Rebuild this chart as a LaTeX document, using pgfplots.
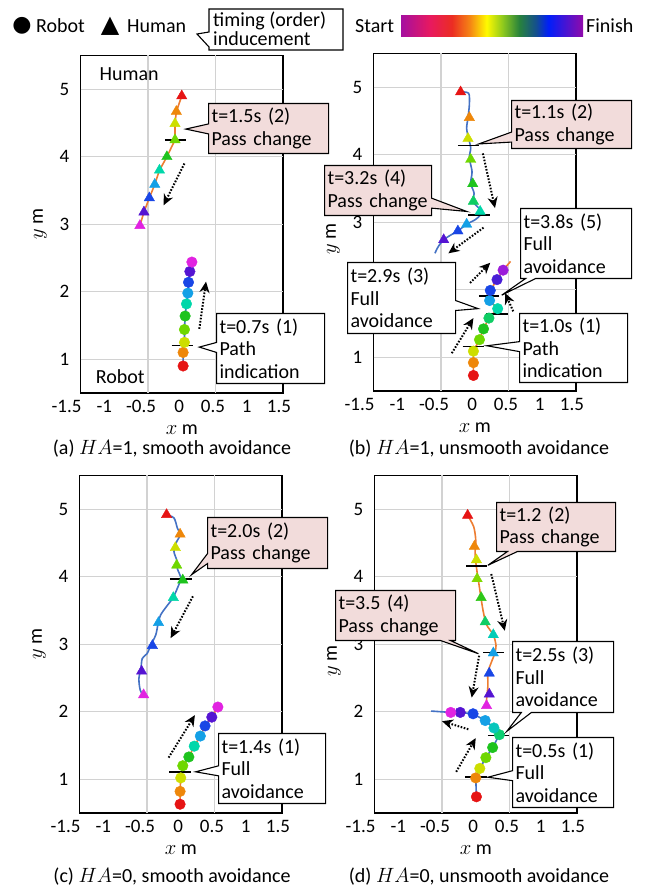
\documentclass[border=0pt]{standalone}
\usepackage{fontspec}
\setmainfont{Carlito}
\newfontfamily\symfont{DejaVu Sans}
\usepackage{pgfplots}
\pgfplotsset{compat=1.18}
\usetikzlibrary{arrows.meta,shapes.callouts}

\definecolor{pinkc}{RGB}{242,220,219}
\definecolor{xlorange}{RGB}{237,125,49}
\definecolor{xlblue}{RGB}{68,114,196}
\definecolor{gridc}{RGB}{210,210,210}
\definecolor{cb0}{RGB}{165,15,160}
\definecolor{cb1}{RGB}{232,25,95}
\definecolor{cb2}{RGB}{235,45,35}
\definecolor{cb3}{RGB}{245,135,20}
\definecolor{cb4}{RGB}{255,250,0}
\definecolor{cb5}{RGB}{140,200,30}
\definecolor{cb6}{RGB}{40,130,60}
\definecolor{cb7}{RGB}{20,80,140}
\definecolor{cb8}{RGB}{0,30,250}
\definecolor{cb9}{RGB}{145,10,170}
\pgfdeclarehorizontalshading{rbow}{100bp}{color(0bp)=(cb0); color(25bp)=(cb0); color(33bp)=(cb1); color(39bp)=(cb2); color(44bp)=(cb3); color(48.5bp)=(cb4); color(53bp)=(cb5); color(57.5bp)=(cb6); color(62bp)=(cb7); color(65.5bp)=(cb8); color(75bp)=(cb9); color(100bp)=(cb9)}

\newcommand\fs{\fontsize{20bp}{22.5bp}\selectfont}
\newcommand\tfs{\fontsize{19bp}{22bp}\selectfont}

\pgfplotsset{
  colormap={traj}{rgb255=(230,20,20) rgb255=(238,135,10) rgb255=(205,222,0) rgb255=(110,215,0) rgb255=(30,195,30) rgb255=(0,215,170) rgb255=(20,160,230) rgb255=(25,70,230) rgb255=(85,20,210) rgb255=(225,35,225)},
  panel/.style={
    anchor=south west, scale only axis, width=202.5bp, height=337.5bp,
    xmin=-1.5, xmax=1.5, ymin=0.5, ymax=5.5,
    axis line style={line width=1.5bp, black},
    major tick length=0pt,
    xtick={-1.5,-1,-0.5,0,0.5,1,1.5},
    xticklabels={{\kern-28bp-1.5},{\kern-20bp-1},{\kern-14bp-0.5},{\kern-5bp 0},{\kern-5bp 0.5},{\kern-5bp 1},{\kern-8bp 1.5}},
    ytick={1,2,3,4,5}, yticklabels={1,2,3,4,5},
    unbounded coords=jump,
    tick label style={font=\tfs},
    xticklabel style={anchor=north, inner sep=0pt, yshift=-7bp},
    yticklabel style={anchor=east, inner sep=0pt, xshift=-11bp},
    label style={font=\fs},
    xlabel={$x$ m}, ylabel={$y$ m},
    xlabel style={at={(axis description cs:0.5,-0.11)}, anchor=center},
    ylabel style={at={(axis description cs:-0.2,0.5)}, anchor=center},
    colormap name=traj, point meta min=0, point meta max=9,
  },
  rpanel/.style={panel, ylabel style={at={(axis description cs:-0.2,0.45)}}},
  gridl/.style={gridc, line width=1.2bp, no marks, forget plot},
  rob/.style={scatter, only marks, mark=*, mark size=5.3bp, scatter src=explicit,
    scatter/use mapped color={draw=mapped color, fill=mapped color}},
  hum/.style={rob, mark=triangle*, mark size=6bp},
  seg/.style={black, line width=1.5bp, no marks},
  darr/.style={black, line width=2bp, dash pattern=on 1.6bp off 1.6bp, no marks,
    -{Stealth[length=11bp,width=10bp,inset=3.5bp]}},
  trajO/.style={xlorange, line width=1.6bp, no marks},
  trajB/.style={xlblue, line width=1.6bp, no marks},
}
\tikzset{co/.style={rectangle callout, draw, line width=1.1bp, font=\fs, align=left,
  inner xsep=3bp, inner ysep=0bp, anchor=north west, callout pointer width=10bp}}

\begin{document}
\begin{tikzpicture}[x=1bp,y=1bp]
\path[use as bounding box] (0bp,0bp) rectangle (646bp,890bp);

% ---------------- (a) ----------------
\begin{axis}[panel, at={(80.5bp,497bp)}]
\addplot[gridl] coordinates {(-0.5,0.5) (-0.5,5.5) (nan,nan) (0.5,0.5) (0.5,5.5) (nan,nan) (-1.5,1) (1.5,1) (nan,nan) (-1.5,2) (1.5,2) (nan,nan) (-1.5,3) (1.5,3) (nan,nan) (-1.5,4) (1.5,4) (nan,nan) (-1.5,5) (1.5,5)};
\addplot[trajO] coordinates {(0.00,4.90) (-0.08,4.67) (-0.10,4.49) (-0.10,4.25) (-0.22,4.00) (-0.33,3.80) (-0.40,3.59) (-0.48,3.39) (-0.56,3.18) (-0.62,2.98)};
\addplot[trajB] coordinates {(0.02,0.90) (0.02,1.10) (0.04,1.25) (0.04,1.44) (0.05,1.64) (0.07,1.82) (0.09,1.98) (0.10,2.14) (0.12,2.30) (0.15,2.44)};
\addplot[hum] table[meta=c, row sep=\\] {x y c\\ 0.00 4.90 0\\ -0.08 4.67 1\\ -0.10 4.49 2\\ -0.10 4.25 3\\ -0.22 4.00 4\\ -0.33 3.80 5\\ -0.40 3.59 6\\ -0.48 3.39 7\\ -0.56 3.18 8\\ -0.62 2.98 9\\};
\addplot[rob] table[meta=c, row sep=\\] {x y c\\ 0.02 0.90 0\\ 0.02 1.10 1\\ 0.04 1.25 2\\ 0.04 1.44 3\\ 0.05 1.64 4\\ 0.07 1.82 5\\ 0.09 1.98 6\\ 0.10 2.14 7\\ 0.12 2.30 8\\ 0.15 2.44 9\\};
\addplot[seg] coordinates {(-0.25,4.25) (0.07,4.25)};
\addplot[seg] coordinates {(-0.15,1.20) (0.17,1.20)};
\addplot[darr] coordinates {(0.04,3.90) (-0.27,3.28)};
\addplot[darr] coordinates {(0.26,1.45) (0.36,2.15)};
\node[font=\fs] at (axis cs:-0.78,5.23) {Human};
\node[font=\fs] at (axis cs:-0.91,0.74) {Robot};
\coordinate (tA1) at (axis cs:0.06,4.41);
\coordinate (tA2) at (axis cs:0.26,1.18);
\end{axis}

% ---------------- (b) ----------------
\begin{axis}[rpanel, at={(373.5bp,499bp)}]
\addplot[gridl] coordinates {(-0.5,0.5) (-0.5,5.5) (nan,nan) (0.5,0.5) (0.5,5.5) (nan,nan) (-1.5,1) (1.5,1) (nan,nan) (-1.5,2) (1.5,2) (nan,nan) (-1.5,3) (1.5,3) (nan,nan) (-1.5,4) (1.5,4) (nan,nan) (-1.5,5) (1.5,5)};
\addplot[trajB, smooth] coordinates {(-0.21,4.93) (-0.09,4.91) (-0.08,4.74) (-0.10,4.55) (-0.12,4.39) (-0.09,4.24) (-0.06,4.10) (-0.08,3.95) (-0.04,3.75) (-0.06,3.58) (-0.01,3.43) (-0.03,3.31) (0.06,3.21) (0.11,3.14) (0.01,3.04) (-0.12,2.97) (-0.25,2.87) (-0.34,2.82) (-0.46,2.74) (-0.54,2.64) (-0.59,2.54)};
\addplot[trajO] coordinates {(-0.02,0.73) (-0.02,0.92) (-0.02,1.09) (0.07,1.26) (0.13,1.42) (0.21,1.58) (0.34,1.72) (0.22,1.84) (0.23,1.99) (0.33,2.15) (0.42,2.29) (0.53,2.42)};
\addplot[hum] table[meta=c, row sep=\\] {x y c\\ -0.21 4.93 0\\ -0.08 4.55 1\\ -0.10 4.24 2\\ -0.06 3.93 3\\ -0.03 3.57 4\\ -0.02 3.31 4.5\\ 0.08 3.16 5\\ -0.12 2.97 6\\ -0.25 2.87 7\\ -0.46 2.74 8\\};
\addplot[rob] table[meta=c, row sep=\\] {x y c\\ -0.02 0.73 0\\ -0.02 0.92 1\\ -0.02 1.09 2\\ 0.07 1.26 3\\ 0.13 1.42 4\\ 0.21 1.58 4.5\\ 0.34 1.72 5\\ 0.22 1.84 6\\ 0.23 1.99 7\\ 0.33 2.15 7.8\\ 0.42 2.29 8.5\\};
\addplot[seg] coordinates {(-0.25,4.14) (0.06,4.14)};
\addplot[seg] coordinates {(-0.10,3.11) (0.22,3.11)};
\addplot[seg] coordinates {(0.06,1.91) (0.36,1.91)};
\addplot[seg] coordinates {(0.17,1.64) (0.49,1.64)};
\addplot[seg] coordinates {(-0.18,1.16) (0.14,1.16)};
\addplot[darr] coordinates {(0.12,4.02) (0.30,3.21)};
\addplot[darr] coordinates {(0.13,2.92) (-0.39,2.54)};
\addplot[darr] coordinates {(-0.07,2.10) (0.23,2.40)};
\addplot[darr] coordinates {(0.57,1.68) (0.45,1.95)};
\addplot[darr] coordinates {(-0.34,1.06) (-0.02,1.58)};
\coordinate (tB1) at (axis cs:0.06,4.16);
\coordinate (tB2) at (axis cs:-0.12,3.16);
\coordinate (tB3) at (axis cs:0.40,1.92);
\coordinate (tB4) at (axis cs:0.05,1.72);
\coordinate (tB5) at (axis cs:0.18,1.17);
\end{axis}

% ---------------- (c) ----------------
\begin{axis}[panel, at={(79.5bp,77bp)}]
\addplot[gridl] coordinates {(-0.5,0.5) (-0.5,5.5) (nan,nan) (0.5,0.5) (0.5,5.5) (nan,nan) (-1.5,1) (1.5,1) (nan,nan) (-1.5,2) (1.5,2) (nan,nan) (-1.5,3) (1.5,3) (nan,nan) (-1.5,4) (1.5,4) (nan,nan) (-1.5,5) (1.5,5)};
\addplot[trajB, smooth] coordinates {(-0.21,4.92) (-0.10,4.87) (-0.05,4.72) (-0.01,4.62) (-0.07,4.50) (-0.10,4.37) (-0.06,4.25) (-0.05,4.12) (0.00,3.98) (-0.05,3.83) (-0.12,3.68) (-0.21,3.56) (-0.30,3.43) (-0.34,3.28) (-0.37,3.14) (-0.44,2.99) (-0.50,2.86) (-0.57,2.79) (-0.59,2.64) (-0.62,2.49) (-0.60,2.32) (-0.54,2.22)};
\addplot[trajO] coordinates {(-0.01,0.63) (-0.01,0.82) (0.00,1.02) (0.03,1.20) (0.12,1.33) (0.20,1.49) (0.29,1.64) (0.36,1.79) (0.46,1.92) (0.55,2.07)};
\addplot[hum] table[meta=c, row sep=\\] {x y c\\ -0.21 4.92 0\\ -0.01 4.63 1\\ -0.08 4.43 2\\ -0.06 4.17 3\\ 0.03 3.95 4\\ -0.11 3.69 5\\ -0.33 3.32 6\\ -0.42 2.98 7\\ -0.58 2.60 8\\ -0.55 2.25 9\\};
\addplot[rob] table[meta=c, row sep=\\] {x y c\\ -0.01 0.63 0\\ -0.01 0.82 1\\ 0.00 1.02 2\\ 0.03 1.20 3\\ 0.12 1.33 4\\ 0.20 1.49 5\\ 0.29 1.64 6\\ 0.36 1.79 7\\ 0.46 1.92 8\\ 0.55 2.07 9\\};
\addplot[seg] coordinates {(-0.16,3.97) (0.16,3.97)};
\addplot[seg] coordinates {(-0.17,1.11) (0.15,1.11)};
\addplot[darr] coordinates {(0.18,3.71) (-0.15,3.09)};
\addplot[darr] coordinates {(-0.18,1.32) (0.21,1.95)};
\coordinate (tC1) at (axis cs:0.16,4.03);
\coordinate (tC2) at (axis cs:0.22,1.11);
\end{axis}

% ---------------- (d) ----------------
\begin{axis}[rpanel, at={(374.5bp,77bp)}]
\addplot[gridl] coordinates {(-0.5,0.5) (-0.5,5.5) (nan,nan) (0.5,0.5) (0.5,5.5) (nan,nan) (-1.5,1) (1.5,1) (nan,nan) (-1.5,2) (1.5,2) (nan,nan) (-1.5,3) (1.5,3) (nan,nan) (-1.5,4) (1.5,4) (nan,nan) (-1.5,5) (1.5,5)};
\addplot[trajO, smooth] coordinates {(-0.12,4.91) (-0.03,4.74) (0.00,4.54) (-0.01,4.34) (0.01,4.14) (0.04,3.94) (0.07,3.74) (0.11,3.49) (0.16,3.29) (0.26,3.14) (0.30,2.98) (0.28,2.86) (0.23,2.73) (0.18,2.58) (0.18,2.38) (0.16,2.18) (0.16,2.09)};
\addplot[trajB] coordinates {(0.01,0.74) (0.00,1.02) (0.06,1.16) (0.15,1.32) (0.25,1.47) (0.35,1.66) (0.27,1.76) (0.14,1.87) (-0.04,1.97) (-0.23,1.99) (-0.37,1.99) (-0.66,2.01)};
\addplot[hum] table[meta=c, row sep=\\] {x y c\\ -0.12 4.91 0\\ -0.02 4.45 1\\ 0.01 4.25 2\\ 0.02 3.97 2.8\\ 0.08 3.69 3.8\\ 0.14 3.33 4.5\\ 0.26 3.14 5.2\\ 0.26 2.87 6\\ 0.20 2.57 7\\ 0.20 2.26 8\\ 0.16 2.09 9\\};
\addplot[rob] table[meta=c, row sep=\\] {x y c\\ 0.01 0.74 0\\ 0.00 1.02 1\\ 0.06 1.16 2\\ 0.15 1.32 3\\ 0.25 1.47 4\\ 0.35 1.66 4.6\\ 0.27 1.76 5.3\\ 0.14 1.87 6\\ -0.04 1.97 7\\ -0.23 1.99 8\\ -0.37 1.99 9\\};
\addplot[seg] coordinates {(-0.14,4.16) (0.17,4.16)};
\addplot[seg] coordinates {(0.11,2.88) (0.42,2.88)};
\addplot[seg] coordinates {(0.18,1.65) (0.49,1.65)};
\addplot[seg] coordinates {(-0.16,1.03) (0.16,1.03)};
\addplot[darr] coordinates {(0.23,4.04) (0.43,3.20)};
\addplot[darr] coordinates {(0.05,2.83) (-0.06,2.21)};
\addplot[darr] coordinates {(-0.11,1.74) (-0.50,1.86)};
\addplot[darr] coordinates {(-0.29,1.11) (0.00,1.61)};
\coordinate (tD1) at (axis cs:0.18,4.17);
\coordinate (tD2) at (axis cs:0.04,2.86);
\coordinate (tD3) at (axis cs:0.46,1.71);
\coordinate (tD4) at (axis cs:0.18,1.03);
\end{axis}

% ---------------- callouts ----------------
\node[co, fill=pinkc, text width=114bp, minimum height=50bp, callout absolute pointer={(tA1)}] at (208bp,787bp) {t=1.5s (2)\\Pass change};
\node[co, fill=white, text width=102bp, minimum height=70bp, callout absolute pointer={(tA2)}] at (216bp,577bp) {t=0.7s (1)\\Path\\indication};
\node[co, fill=pinkc, text width=114bp, minimum height=48bp, callout absolute pointer={(tB1)}] at (511bp,790bp) {t=1.1s (2)\\Pass change};
\node[co, fill=pinkc, text width=101bp, minimum height=50bp, callout absolute pointer={(tB2)}] at (324bp,725bp) {t=3.2s (4)\\Pass change};
\node[co, fill=white, text width=105bp, minimum height=70bp, callout absolute pointer={(tB3)}] at (520bp,682bp) {t=3.8s (5)\\Full\\avoidance};
\node[co, fill=white, text width=102bp, minimum height=71bp, callout absolute pointer={(tB4)}] at (347bp,628bp) {t=2.9s (3)\\Full\\avoidance};
\node[co, fill=white, text width=102bp, minimum height=69bp, callout absolute pointer={(tB5)}] at (519bp,577bp) {t=1.0s (1)\\Path\\indication};
\node[co, fill=pinkc, text width=114bp, minimum height=51bp, callout absolute pointer={(tC1)}] at (207bp,373bp) {t=2.0s (2)\\Pass change};
\node[co, fill=white, text width=101bp, minimum height=70bp, callout absolute pointer={(tC2)}] at (218bp,157bp) {t=1.4s (1)\\Full\\avoidance};
\node[co, fill=pinkc, text width=113bp, minimum height=49bp, callout absolute pointer={(tD1)}] at (496bp,388bp) {t=1.2 (2)\\Pass change};
\node[co, fill=pinkc, text width=114bp, minimum height=50bp, callout absolute pointer={(tD2)}] at (335bp,300bp) {t=3.5 (4)\\Pass change};
\node[co, fill=white, text width=95bp, minimum height=71bp, callout absolute pointer={(tD3)}] at (512bp,249bp) {t=2.5s (3)\\Full\\avoidance};
\node[co, fill=white, text width=95bp, minimum height=70bp, callout absolute pointer={(tD4)}] at (512bp,153bp) {t=0.5s (1)\\Full\\avoidance};

% ---------------- captions ----------------
\node[font=\fs] at (172bp,441bp) {(a) $HA$=1, smooth avoidance};
\node[font=\fs] at (479bp,441bp) {(b) $HA$=1, unsmooth avoidance};
\node[font=\fs] at (172bp,13bp) {(c) $HA$=0, smooth avoidance};
\node[font=\fs] at (479bp,13bp) {(d) $HA$=0, unsmooth avoidance};

% ---------------- legend ----------------
\node[font=\symfont\fontsize{22bp}{22bp}\selectfont, inner sep=0pt] at (22bp,864bp) {●};
\node[font=\fs, anchor=base west, inner sep=0pt] at (36bp,857.5bp) {Robot};
\node[font=\symfont\fontsize{24bp}{24bp}\selectfont, inner sep=0pt] at (110bp,864bp) {▲};
\node[font=\fs, anchor=base west, inner sep=0pt] at (127bp,857.5bp) {Human};
\draw[fill=white, line width=1.1bp] (209bp,881bp) -- (343bp,881bp) -- (343bp,840bp) -- (209bp,840bp) -- (209bp,843bp) -- (197bp,856bp) -- (209bp,858bp) -- cycle;
\node[font=\fs, anchor=base west, inner sep=0pt] at (213bp,863bp) {timing (order)};
\node[font=\fs, anchor=base west, inner sep=0pt] at (213bp,844.5bp) {inducement};
\node[font=\fs, anchor=base west, inner sep=0pt] at (355bp,857.5bp) {Start};
\shade[shading=rbow] (401bp,853bp) rectangle (583bp,874bp);
\node[font=\fs, anchor=base west, inner sep=0pt] at (586bp,857.5bp) {Finish};
\end{tikzpicture}
\end{document}
